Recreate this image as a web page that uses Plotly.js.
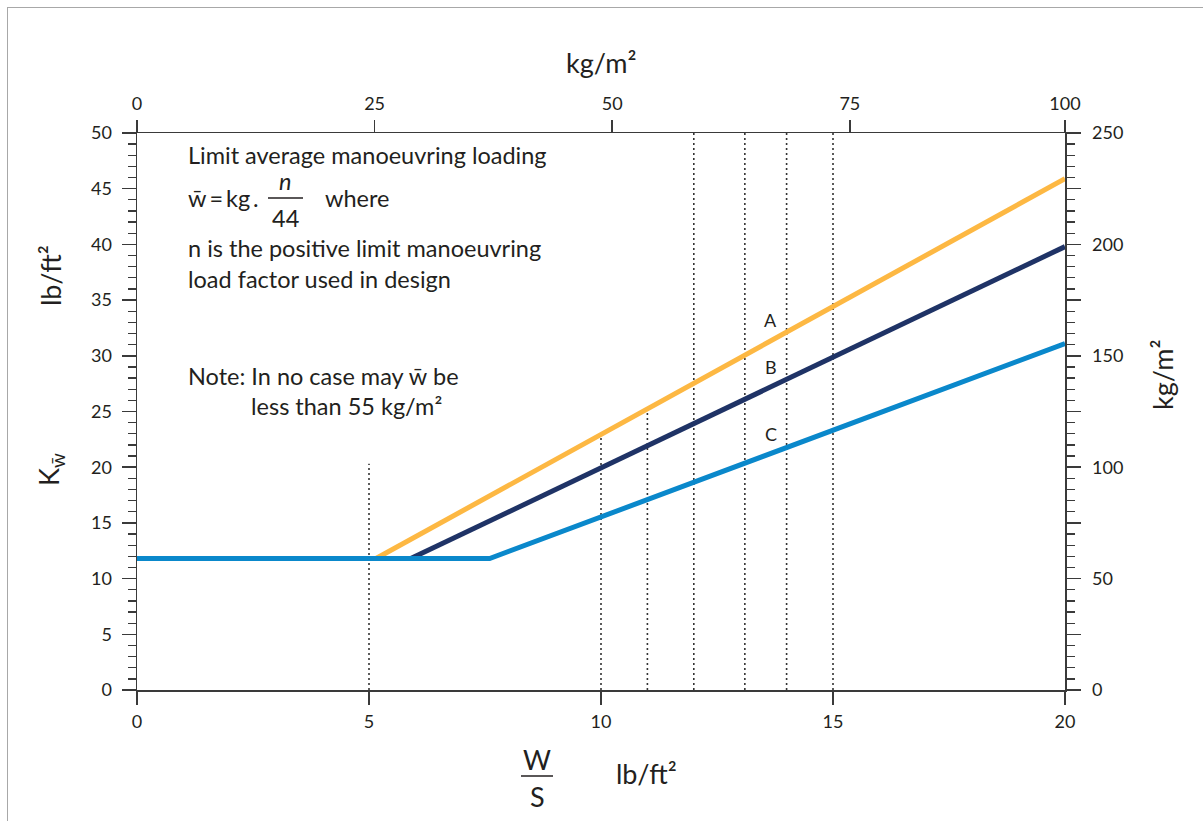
<!DOCTYPE html>
<html>
<head>
<meta charset="utf-8">
<script src="https://cdn.plot.ly/plotly-3.0.1.min.js"></script>
<style>
  body { margin: 0; background: #fff; }
  #frame { position: absolute; left: 7px; top: 7px; width: 1196px; height: 814px;
           border-top: 1.5px solid #a8a8a8; border-left: 1.5px solid #a8a8a8; pointer-events: none; }
  #chart { position: absolute; left: 0; top: 0; width: 1203px; height: 821px; }
</style>
</head>
<body>
<div id="chart"></div>
<div id="frame"></div>
<script>
// ---- data ----
const lineA_x = [5.15, 20];
const lineA_y = [11.8, 45.9];
const lineB_x = [5.9, 20];
const lineB_y = [11.8, 39.8];
const lineC_x = [0, 7.6, 20];
const lineC_y = [11.8, 11.8, 31.1];
const dotX   = [5, 10, 11, 12, 13.1, 14, 15];
const dotTop = [20.3, 23.0, 25.3, 50, 50, 50, 50];
const labelNames = ['A', 'B', 'C'];
const labelX = [13.66, 13.66, 13.66];
const labelY = [33.2, 29.0, 23.0];
const bottomTicks = [0, 5, 10, 15, 20];
const leftTicks = [0, 5, 10, 15, 20, 25, 30, 35, 40, 45, 50];
const rightTickVals = [0, 25, 50, 75, 100, 125, 150, 175, 200, 225, 250];
const rightTickText = ['0', ' ', '50', ' ', '100', ' ', '150', ' ', '200', ' ', '250'];
const topTickVals = [0, 25, 50, 75, 97.64];
const topTickText = ['0', '25', '50', '75', '100'];

const FONT = 'Lato, "Open Sans", sans-serif';
const TXT = '#231f20';
const AX = '#3a3a3a';

// plot-area pixel geometry helpers (for annotation placement only)
const L = 137, R = 1065, T = 133, B = 690;
const px = v => (v - L) / (R - L);
const py = v => (B - v) / (B - T);

// dotted guide lines built from arrays
const dx = [], dy = [];
dotX.forEach((x, i) => { dx.push(x, x, null); dy.push(0, dotTop[i], null); });

const traces = [
  { x: dx, y: dy, mode: 'lines', line: { color: '#333', width: 1.6, dash: '2px,3px' }, hoverinfo: 'skip', showlegend: false },
  { x: lineA_x, y: lineA_y, mode: 'lines', line: { color: '#FDB843', width: 5 }, showlegend: false },
  { x: lineB_x, y: lineB_y, mode: 'lines', line: { color: '#1F3366', width: 5 }, showlegend: false },
  { x: lineC_x, y: lineC_y, mode: 'lines', line: { color: '#0A88CB', width: 5 }, showlegend: false },
  { x: [0], y: [0], xaxis: 'x2', yaxis: 'y2', mode: 'markers', marker: { opacity: 0 }, hoverinfo: 'skip', showlegend: false }
];

const tickFont = { family: FONT, size: 18, color: TXT };
const axisCommon = {
  showline: true, linecolor: AX, linewidth: 1.5, showgrid: false, zeroline: false,
  ticks: 'outside', tickcolor: AX, tickwidth: 1.5, tickfont: tickFont, fixedrange: true
};

const ann = [];
const bodyFont = { family: FONT, size: 23.5, color: TXT };
const titleFont = { family: FONT, size: 27, color: TXT };
function addText(text, x, y, opts) {
  ann.push(Object.assign({ text: text, xref: 'paper', yref: 'paper', x: px(x), y: py(y),
    showarrow: false, xanchor: 'left', yanchor: 'middle', font: bodyFont }, opts || {}));
}
addText('Limit average manoeuvring loading', 186, 155);
addText('w\u0304\u2009=\u2009kg\u2009.', 186, 198);
addText('<i>n</i>', 285, 181, { xanchor: 'center' });
addText('44', 285, 218, { xanchor: 'center' });
addText('where', 323, 198);
addText('n is the positive limit manoeuvring', 186, 248);
addText('load factor used in design', 186, 279);
addText('Note: In no case may w\u0304 be', 186, 376);
addText('less than 55 kg/m\u00b2', 249, 406);
// axis titles
addText('kg/m\u00b2', 601, 62, { xanchor: 'center', font: titleFont });
addText('kg/m\u00b2', 1162, 375, { xanchor: 'center', textangle: -90, font: titleFont });
addText('lb/ft\u00b2', 50, 276, { xanchor: 'center', textangle: -90, font: titleFont });
addText('K<sub>w\u0304</sub>', 50, 470, { xanchor: 'center', textangle: -90, font: titleFont });
addText('W', 537, 759, { xanchor: 'center', font: titleFont });
addText('S', 537, 797, { xanchor: 'center', font: titleFont });
addText('lb/ft\u00b2', 614, 773, { font: titleFont });

// curve labels
labelNames.forEach((t, i) => ann.push({ text: t, x: labelX[i], y: labelY[i], xref: 'x', yref: 'y',
  showarrow: false, font: { family: FONT, size: 18, color: TXT } }));

const shapes = [
  { type: 'line', xref: 'paper', yref: 'paper', x0: px(268), x1: px(303), y0: py(198), y1: py(198), line: { color: TXT, width: 1.5 } },
  { type: 'line', xref: 'paper', yref: 'paper', x0: px(521), x1: px(553), y0: py(776), y1: py(776), line: { color: TXT, width: 1.5 } }
];

const layout = {
  width: 1203, height: 821,
  margin: { l: L, r: 1203 - R, t: T, b: 821 - B },
  paper_bgcolor: '#fff', plot_bgcolor: '#fff',
  xaxis: Object.assign({}, axisCommon, { range: [0, 20], tickvals: bottomTicks, ticklen: 13, ticklabelstandoff: 2 }),
  yaxis: Object.assign({}, axisCommon, { range: [0, 50], tickvals: leftTicks, ticklen: 14, ticklabelstandoff: 6,
    minor: { dtick: 1, ticklen: 8, tickcolor: AX, tickwidth: 1.3, ticks: 'outside' } }),
  xaxis2: Object.assign({}, axisCommon, { overlaying: 'x', side: 'top', range: [0, 97.64],
    tickvals: topTickVals, ticktext: topTickText, ticklen: 12, ticklabelstandoff: 2 }),
  yaxis2: Object.assign({}, axisCommon, { overlaying: 'y', side: 'right', range: [0, 250],
    tickvals: rightTickVals, ticktext: rightTickText, ticklen: 14, ticklabelstandoff: 8,
    minor: { dtick: 5, ticklen: 8, tickcolor: AX, tickwidth: 1.3, ticks: 'outside' } }),
  annotations: ann,
  shapes: shapes,
  showlegend: false
};

Plotly.newPlot('chart', traces, layout, { displayModeBar: false, staticPlot: true });
</script>
</body>
</html>
